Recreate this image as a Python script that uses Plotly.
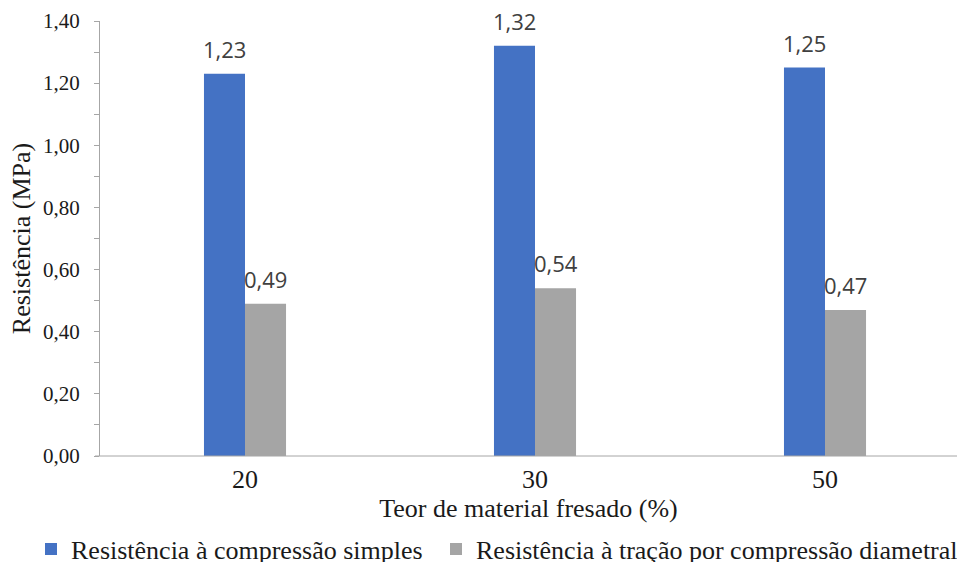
import plotly.graph_objects as go

# Teor de material fresado (%) e resistências medidas (MPa)
categorias = ["20", "30", "50"]
compressao_simples = [1.23, 1.32, 1.25]
tracao_diametral = [0.49, 0.54, 0.47]
serie_nomes = [
    "Resistência à compressão simples",
    "Resistência à tração por compressão diametral",
]
y_ticks = [0.0, 0.2, 0.4, 0.6, 0.8, 1.0, 1.2, 1.4]

AZUL = "#4472C4"
CINZA = "#A5A5A5"
EIXO = "#A6A6A6"
TEXTO = "#1a1a1a"
SERIF = "Liberation Serif"
SANS = "Open Sans"

W, H = 957, 562
ML, MR, MT, MB = 100, 0, 21, 106
plot_w = W - ML - MR
cat_px = 290  # largura de cada categoria em pixels

fig = go.Figure()
fig.add_trace(go.Bar(
    x=categorias, y=compressao_simples, name=serie_nomes[0],
    marker=dict(color=AZUL, line=dict(width=0)), legend="legend",
    showlegend=True,
))
fig.add_trace(go.Bar(
    x=categorias, y=tracao_diametral, name=serie_nomes[1],
    marker=dict(color=CINZA, line=dict(width=0)), legend="legend2",
    showlegend=True,
))

# rótulos de valor acima de cada barra (x pelo índice da categoria)
bar_px = cat_px * (1 - 0.717) / 2
for serie, desloc in ((compressao_simples, -bar_px / 2), (tracao_diametral, bar_px / 2)):
    for i, val in enumerate(serie):
        fig.add_annotation(
            x=i, y=val, xref="x", yref="y",
            text=f"{val:.2f}".replace(".", ","),
            showarrow=False, xanchor="center", yanchor="bottom",
            xshift=desloc, yshift=8,
            font=dict(family=SANS, size=22, color="#404040"),
        )

# linha do eixo x prolongada um pouco à esquerda do eixo y
fig.add_shape(type="line", xref="paper", yref="paper",
              x0=-5 / plot_w, x1=1, y0=0, y1=0,
              line=dict(color=EIXO, width=1))

x_hi = -0.5 + plot_w / cat_px
leg_y = 1 - 549 / H
fig.update_layout(
    width=W, height=H,
    margin=dict(l=ML, r=MR, t=MT, b=MB, autoexpand=False),
    paper_bgcolor="white", plot_bgcolor="white",
    barmode="group", bargap=0.717, bargroupgap=0,
    separators=",.",
    showlegend=True,
    font=dict(family=SERIF, color=TEXTO),
    xaxis=dict(
        type="category", range=[-0.5, x_hi],
        showline=False, ticks="", showgrid=False,
        tickfont=dict(family=SERIF, size=26, color=TEXTO),
        ticklabelstandoff=5,
        title=dict(text="Teor de material fresado (%)",
                   font=dict(family=SERIF, size=26, color=TEXTO),
                   standoff=2),
        automargin=False,
    ),
    yaxis=dict(
        range=[0, 1.4], tickvals=y_ticks, tickformat=".2f",
        showline=True, linecolor=EIXO, linewidth=1,
        ticks="outside", ticklen=5, tickcolor=EIXO,
        minor=dict(dtick=0.1, ticks="outside", ticklen=5, tickcolor=EIXO),
        showgrid=False, zeroline=False,
        tickfont=dict(family=SERIF, size=21, color=TEXTO),
        ticklabelstandoff=10,
        title=dict(text="Resistência (MPa)",
                   font=dict(family=SERIF, size=26, color=TEXTO),
                   standoff=4),
        automargin=False,
    ),
    legend=dict(
        orientation="h", xref="container", x=31 / W, xanchor="left",
        yref="container", y=leg_y, yanchor="middle",
        font=dict(family=SERIF, size=26, color=TEXTO),
        bgcolor="rgba(0,0,0,0)", itemwidth=30,
    ),
    legend2=dict(
        orientation="h", xref="container", x=436 / W, xanchor="left",
        yref="container", y=leg_y, yanchor="middle",
        font=dict(family=SERIF, size=26, color=TEXTO),
        bgcolor="rgba(0,0,0,0)", itemwidth=30,
    ),
)

fig.write_html("out.html")
